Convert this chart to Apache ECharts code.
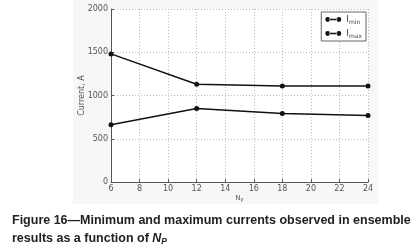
<!DOCTYPE html>
<html>
<head>
<meta charset="utf-8">
<script src="https://cdn.jsdelivr.net/npm/echarts@6/dist/echarts.min.js"></script>
<style>
  html, body { margin: 0; padding: 0; background: #fff; }
  #chart { width: 419px; height: 252px; }
</style>
</head>
<body>
<div id="chart"></div>
<script>
// values
const npValues = [6, 12, 18, 24];
const iMin = [661, 851, 793, 770];
const iMax = [1481, 1130, 1110, 1110];
const xTicks = [6, 8, 10, 12, 14, 16, 18, 20, 22, 24];
const yTicks = [0, 500, 1000, 1500, 2000];

const chart = echarts.init(document.getElementById("chart"));

const pairs = (ys) => npValues.map((x, i) => [x, ys[i]]);

const tickFont = { fontFamily: "DejaVu Sans", fontSize: 8, color: "#555" };

// line with a dot at each end, like the matplotlib legend handle
const legendIcon =
  "path://M0,3A3,3 0 1,0 6,3A3,3 0 1,0 0,3Z" +
  "M14,3A3,3 0 1,0 20,3A3,3 0 1,0 14,3Z" +
  "M5,2.2L15,2.2L15,3.8L5,3.8Z";

const option = {
  animation: false,
  backgroundColor: "#fff",
  graphic: [
    {
      type: "rect",
      z: -10,
      shape: { x: 73, y: 0, width: 305, height: 204 },
      style: { fill: "#f7f7f7" },
    },
    {
      type: "rect",
      z: -5,
      shape: { x: 111, y: 9, width: 257, height: 173 },
      style: { fill: "#fff" },
    },
  ],
  title: {
    text: "Figure 16\u2014Minimum and maximum currents observed in ensemble\n{n|results as a function of }{it|N}{sub|P}",
    left: 7,
    top: 207,
    textStyle: {
      fontFamily: "Liberation Sans",
      fontWeight: "bold",
      fontSize: 12.5,
      color: "#222",
      lineHeight: 18,
      rich: {
        n: { fontFamily: "Liberation Sans", fontWeight: "bold", fontSize: 12.5, color: "#222" },
        it: { fontFamily: "Liberation Sans", fontWeight: "bold", fontStyle: "italic", fontSize: 12.5, color: "#222" },
        sub: { fontFamily: "Liberation Sans", fontWeight: "bold", fontStyle: "italic", fontSize: 8.5, color: "#222", padding: [5, 0, 0, 0] },
      },
    },
  },
  legend: {
    right: 53,
    top: 12,
    orient: "vertical",
    itemWidth: 16,
    itemHeight: 5,
    itemGap: 4,
    padding: [3, 4, 2, 4],
    borderColor: "#666",
    borderWidth: 1,
    borderRadius: 0,
    backgroundColor: "#fff",
    data: [
      { name: "Imin", icon: legendIcon },
      { name: "Imax", icon: legendIcon },
    ],
    formatter: (name) => "{b|I}{s|" + name.slice(1) + "}",
    textStyle: {
      rich: {
        b: { fontFamily: "DejaVu Sans", fontSize: 9, color: "#444" },
        s: { fontFamily: "DejaVu Sans", fontSize: 6, color: "#444", padding: [5, 0, 0, 0] },
      },
    },
  },
  grid: { left: 111, right: 51, top: 9, bottom: 70 },
  xAxis: {
    type: "value",
    min: xTicks[0],
    max: xTicks[xTicks.length - 1],
    interval: 2,
    name: "{a|N}{b|P}",
    nameLocation: "middle",
    nameGap: 12,
    nameMoveOverlap: false,
    nameTextStyle: {
      rich: {
        a: { fontFamily: "DejaVu Sans", fontSize: 7, color: "#555" },
        b: { fontFamily: "DejaVu Sans", fontSize: 5, color: "#555", padding: [4, 0, 0, 0] },
      },
    },
    axisLine: { lineStyle: { color: "#555", width: 1 } },
    axisTick: { inside: true, length: 3, lineStyle: { color: "#555" } },
    axisLabel: Object.assign({ margin: 3 }, tickFont),
    splitLine: { show: true, lineStyle: { color: "#bbb", type: [1, 2], width: 1 } },
  },
  yAxis: {
    type: "value",
    min: yTicks[0],
    max: yTicks[yTicks.length - 1],
    interval: 500,
    name: "Current, A",
    nameLocation: "middle",
    nameGap: 25,
    nameMoveOverlap: false,
    nameTextStyle: { fontFamily: "DejaVu Sans", fontSize: 8, color: "#555" },
    axisLine: { show: true, lineStyle: { color: "#555", width: 1 } },
    axisTick: { show: true, inside: true, length: 3, lineStyle: { color: "#555" } },
    axisLabel: Object.assign({ margin: 3, formatter: (v) => String(v) }, tickFont),
    splitLine: { show: true, lineStyle: { color: "#bbb", type: [1, 2], width: 1 } },
  },
  series: [
    {
      name: "Imin",
      type: "line",
      data: pairs(iMin),
      symbol: "circle",
      symbolSize: 5,
      lineStyle: { color: "#111", width: 1.5 },
      itemStyle: { color: "#111" },
    },
    {
      name: "Imax",
      type: "line",
      data: pairs(iMax),
      symbol: "circle",
      symbolSize: 5,
      lineStyle: { color: "#111", width: 1.5 },
      itemStyle: { color: "#111" },
    },
  ],
};

chart.setOption(option);
</script>
</body>
</html>
